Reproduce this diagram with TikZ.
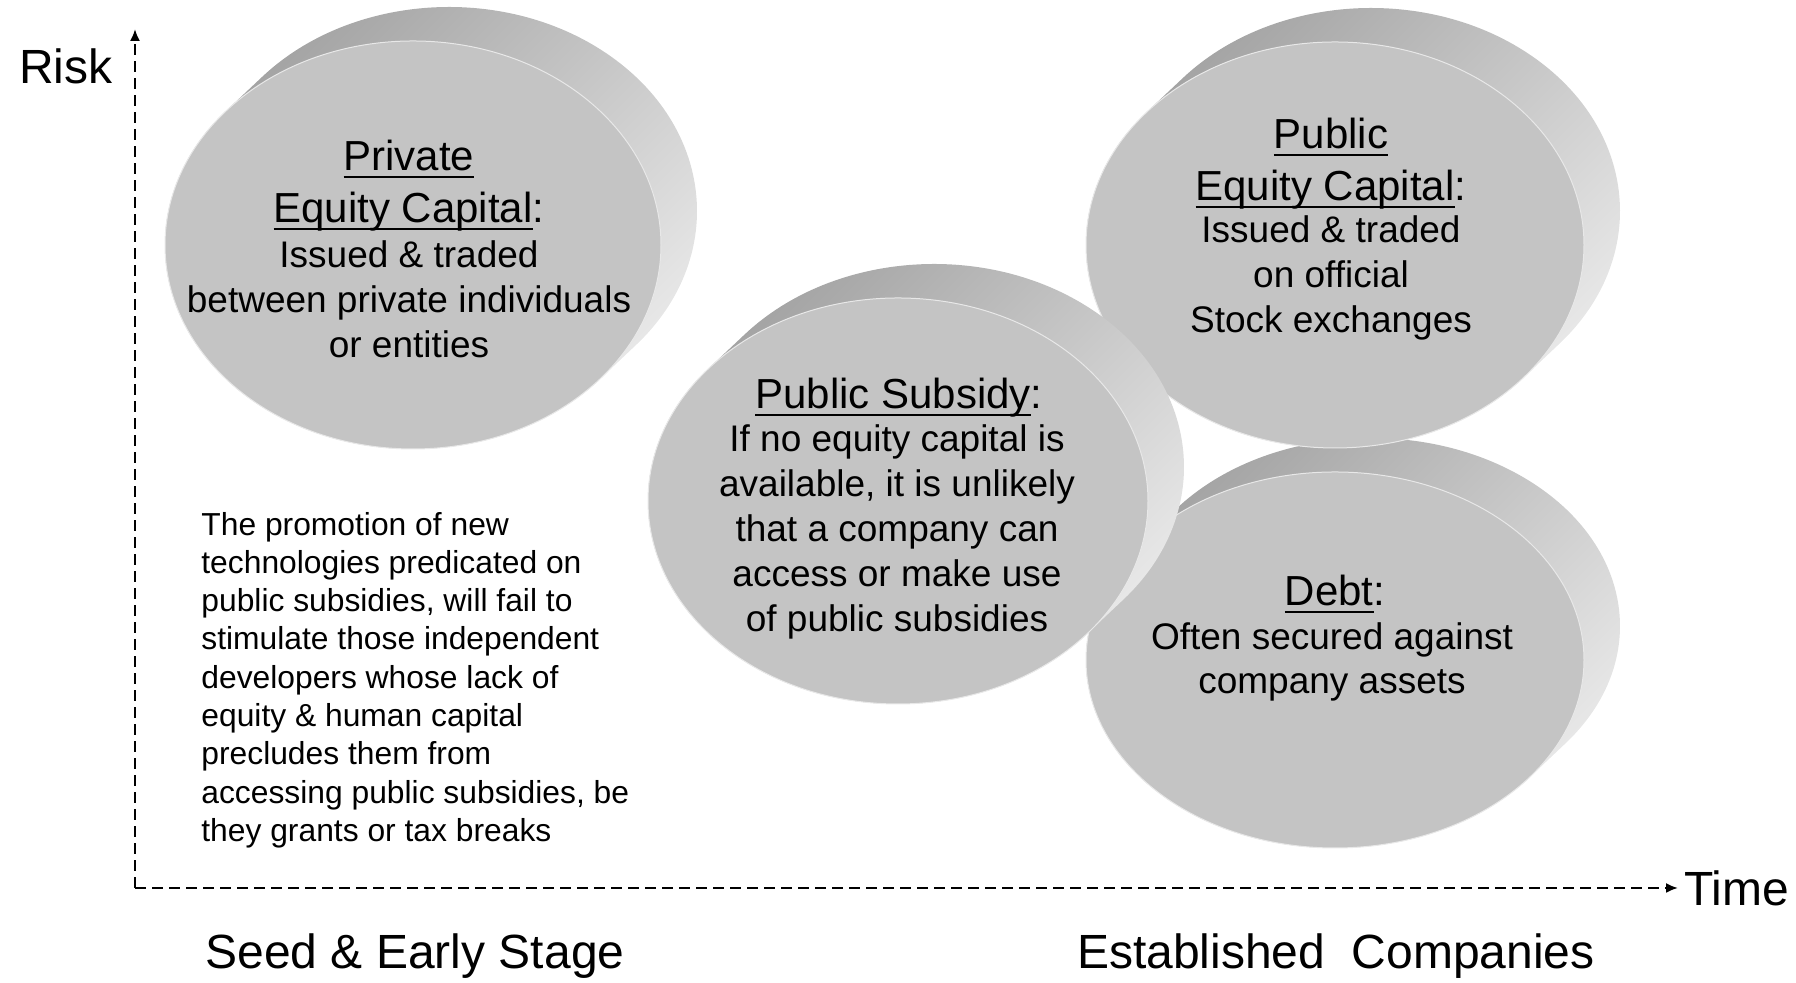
\documentclass[tikz,border=0pt]{standalone}
\usepackage{fontspec}
\setmainfont{Liberation Sans}
\usetikzlibrary{arrows.meta}
\newcommand{\hdsize}{\fontsize{21}{26}\selectfont}
\newcommand{\bdsize}{\fontsize{18.5}{22.4}\selectfont}
\newcommand{\ulin}[1]{\setbox0\hbox{#1}\rlap{\rule[-3.8pt]{\wd0}{1.1pt}}\box0}
\newcommand{\capdisc}[4]{%
  \pgfmathsetmacro{\ta}{atan2(-(#4)*36,(#3)*34)}%
  \pgfmathsetmacro{\tb}{\ta+180}%
  \pgfmathsetmacro{\tc}{\ta-180}%
  \shade[disc side] (#1,#2) ++(\tb:#3 and #4) -- ++(36,34)
    arc[start angle=\tb, end angle=\ta, x radius=#3, y radius=#4] -- ++(-36,-34)
    arc[start angle=\ta, end angle=\tc, x radius=#3, y radius=#4] -- cycle;
  \fill[disc face] (#1,#2) ellipse[x radius=#3, y radius=#4];
}

\begin{document}
\begin{tikzpicture}[x=0.5pt, y=0.5pt,
    disc side/.style={top color=black!38, bottom color=black!7, shading angle=45},
    disc face/.style={fill=black!23, draw=black!9, line width=0.5pt},
    axis/.style={dash pattern=on 5.5pt off 3pt, line width=1pt, -{Latex[length=6pt, width=5pt]}},
    title/.style={align=center, inner sep=0pt, font=\hdsize},
    body/.style={align=center, inner sep=0pt, font=\bdsize},
    bigtxt/.style={inner sep=0pt, font=\fontsize{24}{28}\selectfont}]
                \useasboundingbox (0,0) rectangle (1796,983);
                % the four discs
                \capdisc{413}{738}{248}{204}
                \capdisc{1335}{323}{249}{188}
                \capdisc{1335}{738}{249}{203}
                \capdisc{898}{482}{250}{203}
                % axes
                \coordinate (origin) at (135,95);
                \coordinate (ytop) at (135,954);
                \coordinate (xend) at (1678,95);
                \draw[axis] (origin) -- (ytop);
                \draw[axis] (origin) -- (xend);
                \node[bigtxt, anchor=east] (risk) at (113,917) {Risk};
                \node[bigtxt, anchor=west] (time) at (1684,95) {Time};
                \node[bigtxt] (seed) at (415,27) {Seed \& Early Stage};
                \node[bigtxt] (estab) at (1336,27) {Established\ \ Companies};
                % disc texts
                \node[title] (privhd) at (409,797) {\ulin{Private}\\\ulin{Equity Capital}:};
                \node[body] (privtx) at (409,684) {Issued \& traded\\between private individuals\\or entities};
                \node[title] (pubhd) at (1331,819) {\ulin{Public}\\\ulin{Equity Capital}:};
                \node[body] (pubtx) at (1331,705) {Issued \& traded\\on official\\Stock exchanges};
                \node[title] (subhd) at (899,585) {\ulin{Public Subsidy}:};
                \node[body] (subtx) at (897,451) {If no equity capital is\\available, it is unlikely\\that a company can\\access or make use\\of public subsidies};
                \node[title] (debthd) at (1335,389) {\ulin{Debt}:};
                \node[body] (debttx) at (1332,321) {Often secured against\\company assets};
                % note on the left
                \node[align=left, inner sep=0pt, anchor=west, font=\fontsize{15.9}{19.15}\selectfont] (note) at (201,303)
                    {The promotion of new\\technologies predicated on\\public subsidies, will fail to\\stimulate those independent\\developers whose lack of\\equity \& human capital\\precludes them from\\accessing public subsidies, be\\they grants or tax breaks};
\end{tikzpicture}
\end{document}
